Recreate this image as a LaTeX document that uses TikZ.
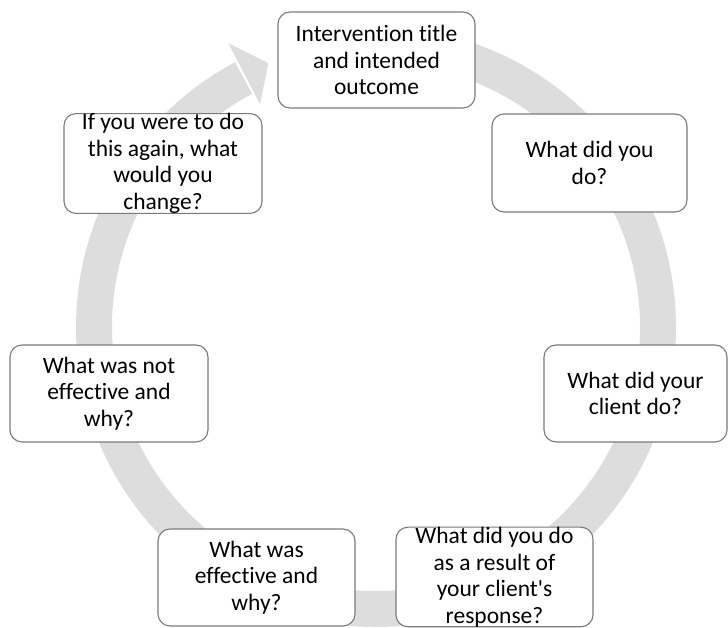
\documentclass[tikz,border=0pt]{standalone}
\usepackage{fontspec}
\setmainfont{Carlito}[Ligatures={NoCommon,TeXOff}]
\usetikzlibrary{calc}
\definecolor{ringgray}{HTML}{DDDDDD}
\definecolor{boxgray}{HTML}{7A7A7A}
\begin{document}
\begin{tikzpicture}[x=1pt,y=1pt,
  box/.style={draw=boxgray, line width=1.1pt, fill=white, rounded corners=12pt,
    inner sep=0pt, align=center, font=\fontsize{23.5}{26.5}\selectfont},
  ringline/.style={draw=ringgray, line width=36pt},
  ringhead/.style={fill=ringgray}
]
\useasboundingbox (0,0) rectangle (728,628);
\coordinate (c) at (376,301);
% circular arrow
\draw[ringline] (c) ++(95:282) arc[start angle=95, end angle=-242, radius=282];
\fill[ringhead] ($(c)+(117.5:251)$) -- ($(c)+(112.2:285)$) -- ($(c)+(117.5:320)$) -- cycle;
% boxes
\node[box, minimum width=197pt, minimum height=96pt] (n1) at (376.5,568) {Intervention title\\and intended\\outcome};
\node[box, minimum width=195pt, minimum height=98pt] (n2) at (589.5,465) {What did you\\do?};
\node[box, minimum width=183pt, minimum height=97pt] (n3) at (635.5,234.5) {What did your\\client do?};
\node[box, minimum width=197pt, minimum height=96pt] (n4) at (494.5,51) {What did you do\\as a result of\\your client's\\response?};
\node[box, minimum width=197pt, minimum height=97pt] (n5) at (256.5,50.5) {What was\\effective and\\why?};
\node[box, minimum width=198pt, minimum height=97pt] (n6) at (109,234.5) {What was not\\effective and\\why?};
\node[box, minimum width=198pt, minimum height=97pt] (n7) at (163,464.5) {If you were to do\\this again, what\\would you\\change?};
\end{tikzpicture}
\end{document}
